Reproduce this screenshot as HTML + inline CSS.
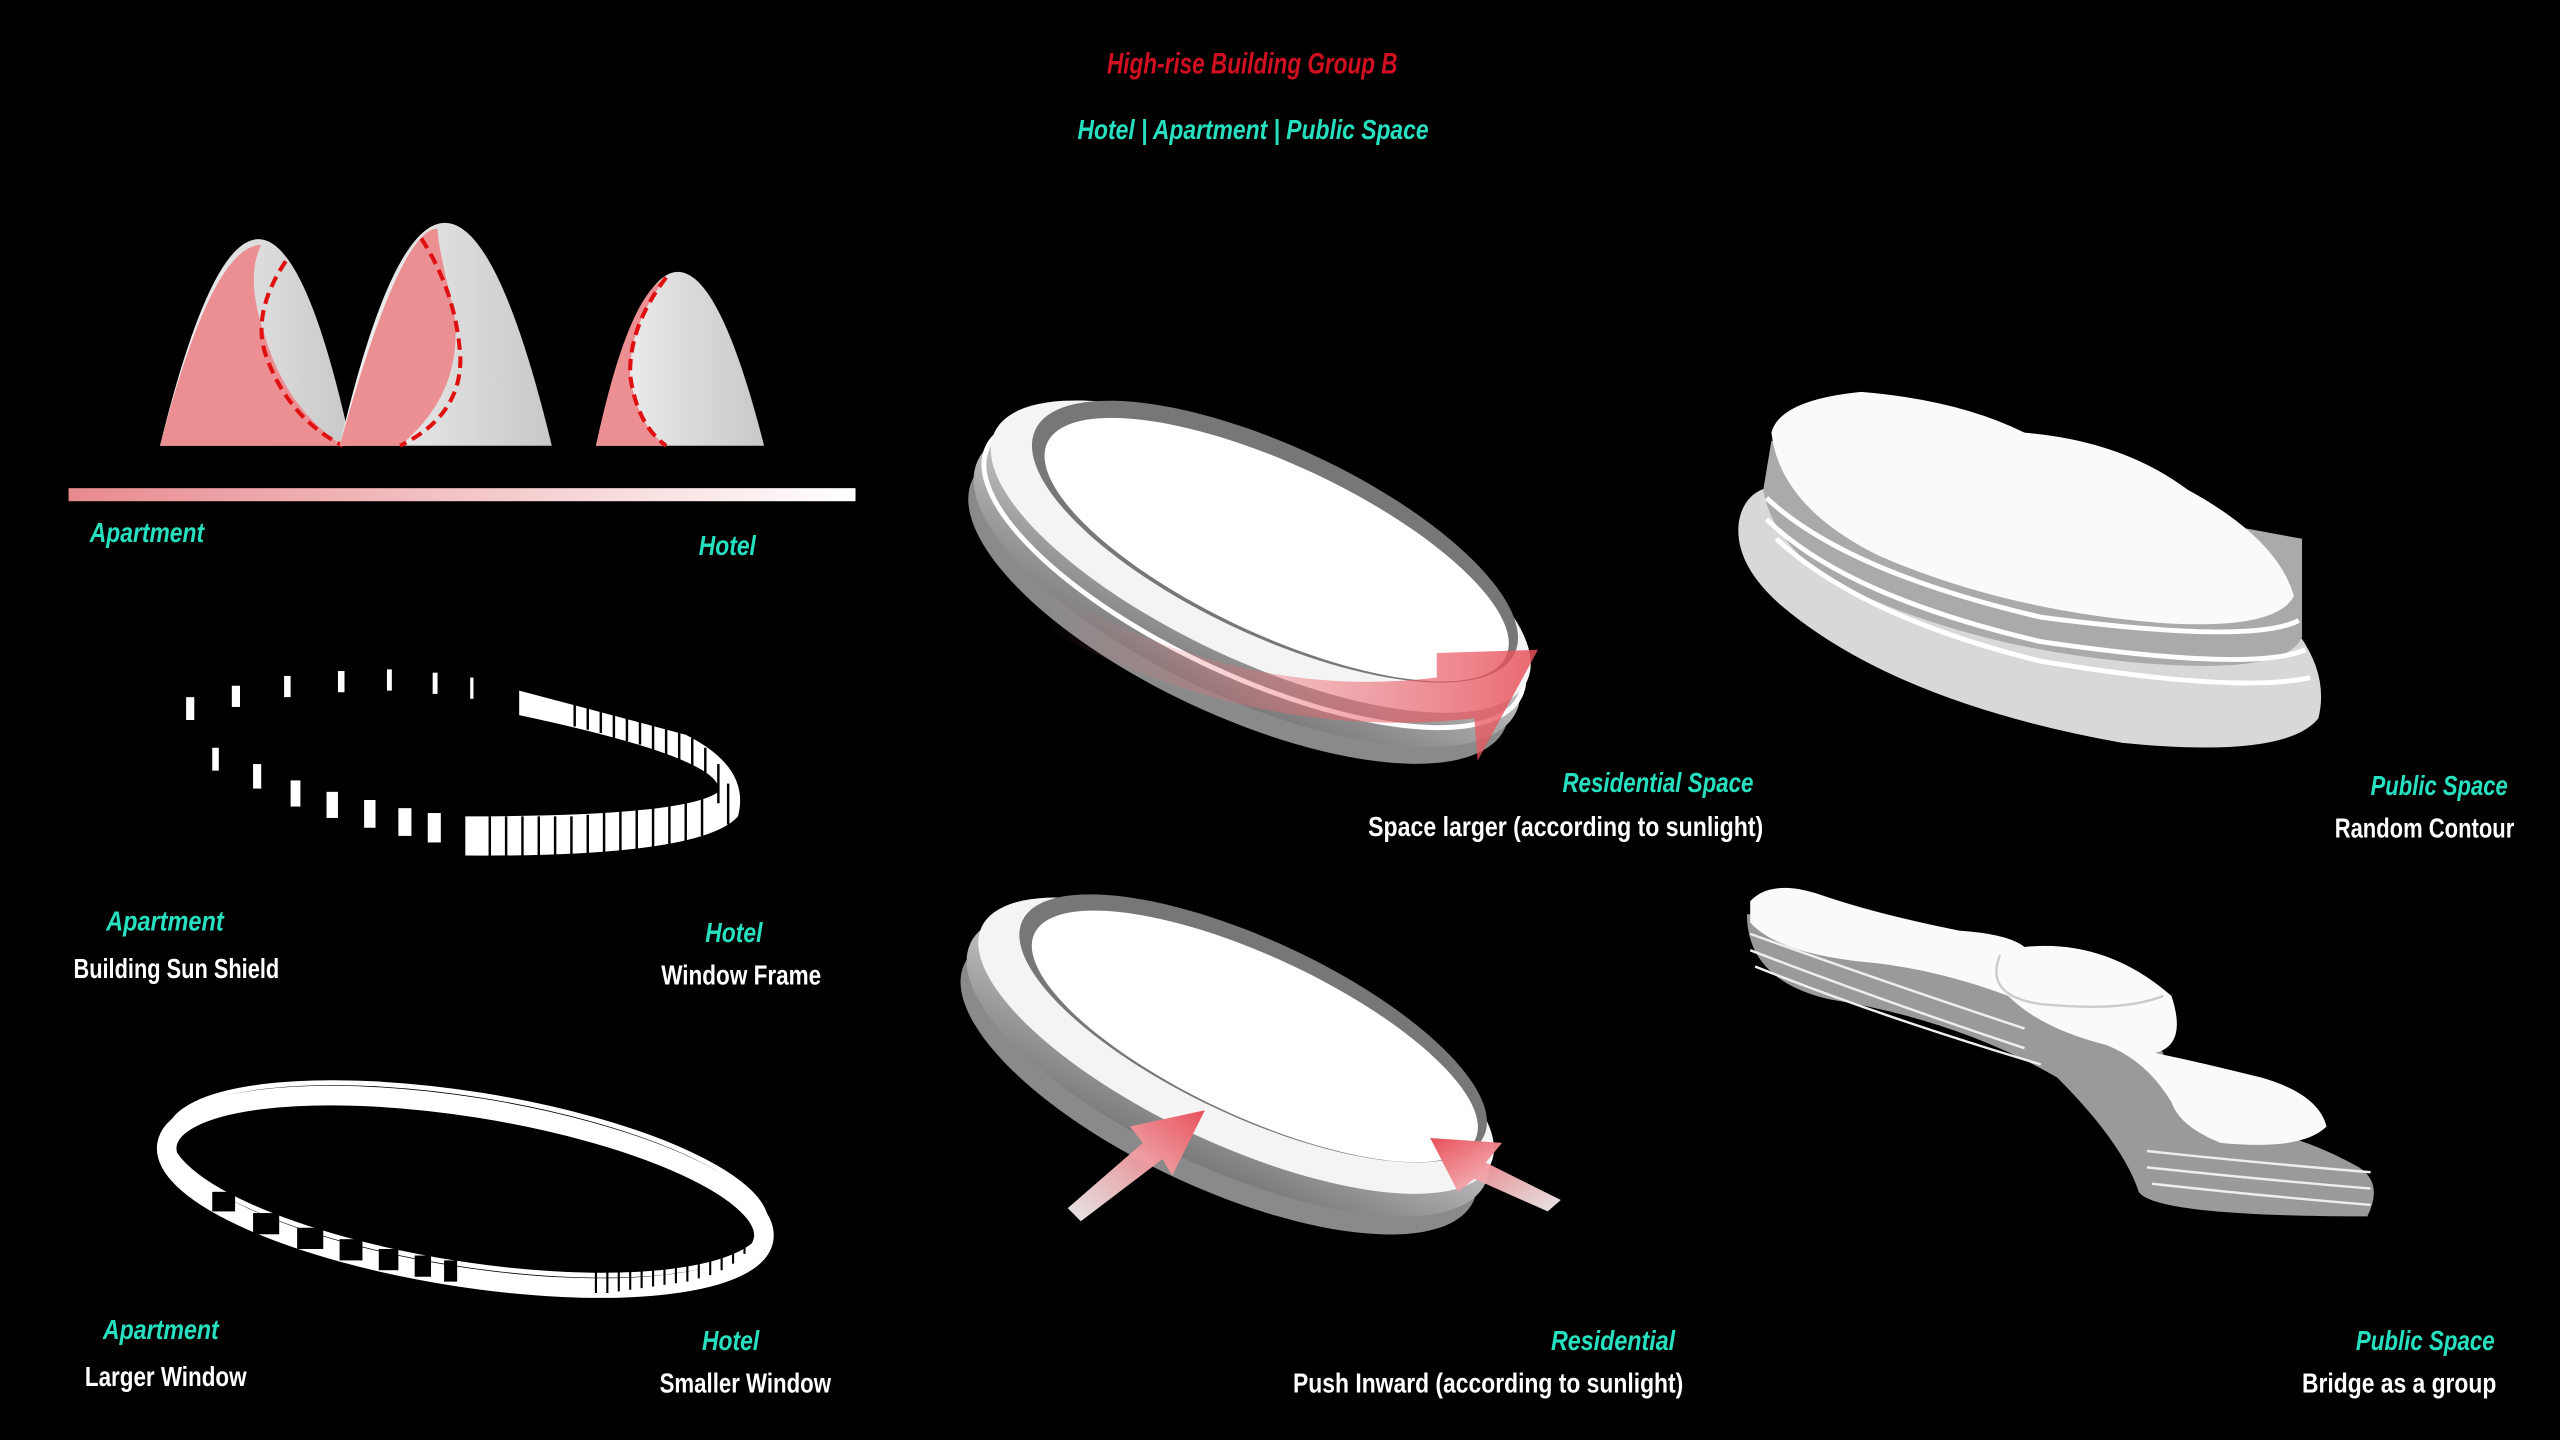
<!DOCTYPE html>
<html><head><meta charset="utf-8"><style>
html,body{margin:0;padding:0;background:#000;width:2560px;height:1440px;overflow:hidden}
svg{display:block}
text{font-family:"Liberation Sans Narrow","Liberation Sans",sans-serif;font-weight:bold}
.c{fill:#26e0c0;font-style:italic;font-size:17px}
.w{fill:#fff;font-size:17px}
</style></head><body>
<svg width="2560" height="1440" viewBox="0 0 1568 882" xmlns="http://www.w3.org/2000/svg">
<defs>
<linearGradient id="bar" x1="0" x2="1"><stop offset="0" stop-color="#e88a8e"/><stop offset="1" stop-color="#fff"/></linearGradient>
<linearGradient id="grey" x1="0" x2="1"><stop offset="0" stop-color="#f2f2f2"/><stop offset="1" stop-color="#c8c8c8"/></linearGradient>
<linearGradient id="side" x1="0" y1="0" x2="0" y2="1"><stop offset="0" stop-color="#f0f0f0"/><stop offset="1" stop-color="#7a7a7a"/></linearGradient>
<linearGradient id="arr" x1="0" x2="1"><stop offset="0" stop-color="#f08088" stop-opacity="0"/><stop offset="1" stop-color="#e8505a" stop-opacity=".85"/></linearGradient>
<linearGradient id="arr2" x1="0" y1="1" x2="1" y2="0"><stop offset="0" stop-color="#fff" stop-opacity=".9"/><stop offset="1" stop-color="#e8505a"/></linearGradient>
<linearGradient id="arr3" x1="1" y1="1" x2="0" y2="0"><stop offset="0" stop-color="#fff" stop-opacity=".9"/><stop offset="1" stop-color="#e8505a"/></linearGradient>
</defs>
<text x="678" y="45" fill="#d01020" font-style="italic" font-size="18" textLength="178" lengthAdjust="spacingAndGlyphs">High-rise Building Group B</text>
<text x="660" y="85" class="c" font-size="18" textLength="215" lengthAdjust="spacingAndGlyphs">Hotel | Apartment | Public Space</text>

<!-- bells -->
<path d="M98 273 Q160 20 215 273Z" fill="url(#grey)"/>
<path d="M98 273 Q130 150 160 150 Q150 170 162 205 Q175 250 210 273Z" fill="#ec8f92"/>
<path d="M175 160 Q155 190 162 215 Q175 255 210 273" fill="none" stroke="#e01010" stroke-width="2.5" stroke-dasharray="7,4"/>
<path d="M208 273 Q272 0 338 273Z" fill="url(#grey)"/>
<path d="M208 273 Q245 140 268 140 Q268 150 278 190 Q285 240 245 273Z" fill="#ec8f92"/>
<path d="M258 146 Q280 180 282 220 Q282 255 245 273" fill="none" stroke="#e01010" stroke-width="2.5" stroke-dasharray="7,4"/>
<path d="M365 273 Q414 60 468 273Z" fill="url(#grey)"/>
<path d="M365 273 Q385 180 408 170 Q385 200 386 230 Q390 260 408 273Z" fill="#ec8f92"/>
<path d="M408 170 Q385 200 386 230 Q390 260 408 273" fill="none" stroke="#e01010" stroke-width="2.5" stroke-dasharray="7,4"/>
<rect x="42" y="299" width="482" height="8" fill="url(#bar)"/>
<text x="55" y="332" class="c" textLength="70" lengthAdjust="spacingAndGlyphs">Apartment</text>
<text x="428" y="340" class="c" textLength="35" lengthAdjust="spacingAndGlyphs">Hotel</text>

<!-- sun shield ring -->
<g fill="#fff">
<rect x="114" y="427" width="5" height="14"/><rect x="142" y="420" width="5" height="13"/><rect x="174" y="414" width="4" height="13"/><rect x="207" y="411" width="4" height="13"/><rect x="237" y="410" width="3" height="13"/><rect x="265" y="412" width="3" height="13"/><rect x="288" y="415" width="2" height="13"/>
<rect x="130" y="458" width="4" height="14"/><rect x="155" y="468" width="5" height="15"/><rect x="178" y="478" width="6" height="16"/><rect x="200" y="485" width="7" height="16"/><rect x="223" y="490" width="7" height="17"/><rect x="244" y="495" width="8" height="17"/><rect x="262" y="498" width="8" height="18"/>
<path d="M318 423 L420 450 Q460 470 452 500 Q430 525 285 524 L285 500 Q420 500 440 485 Q445 465 318 438Z" fill="#fff"/>
</g>
<g stroke="#000" stroke-width="1.5">
<path d="M352 428 V445 M360 430 V447 M368 432 V449 M376 434 V452 M384 436 V454 M392 439 V456 M400 442 V460 M408 445 V464 M416 448 V468 M424 452 V474 M432 458 V482 M440 468 V492 M446 480 V505 M300 500 V525 M310 500 V525 M320 500 V525 M330 500 V525 M340 500 V525 M350 500 V525 M360 499 V524 M370 498 V523 M380 497 V522 M390 496 V521 M400 494 V519 M410 492 V517 M420 490 V515 M430 488 V512"/>
</g>
<text x="65" y="570" class="c" textLength="72" lengthAdjust="spacingAndGlyphs">Apartment</text>
<text x="45" y="599" class="w" textLength="126" lengthAdjust="spacingAndGlyphs">Building Sun Shield</text>
<text x="432" y="577" class="c" textLength="35" lengthAdjust="spacingAndGlyphs">Hotel</text>
<text x="405" y="603" class="w" textLength="98" lengthAdjust="spacingAndGlyphs">Window Frame</text>

<!-- window ring -->
<g transform="rotate(9 285 730)">
<ellipse cx="285" cy="730" rx="185" ry="52" fill="none" stroke="#fff" stroke-width="12"/>
<ellipse cx="285" cy="722" rx="185" ry="52" fill="none" stroke="#fff" stroke-width="3"/>
</g>
<g fill="#000">
<rect x="130" y="730" width="14" height="12"/><rect x="155" y="743" width="16" height="13"/><rect x="182" y="752" width="16" height="13"/><rect x="208" y="759" width="14" height="13"/><rect x="232" y="765" width="12" height="13"/><rect x="254" y="769" width="10" height="13"/><rect x="272" y="772" width="8" height="13"/>
</g>
<g stroke="#000" stroke-width="1.3">
<path d="M365 776V792 M372 776V792 M379 775V791 M386 774V790 M393 773V789 M400 772V788 M407 771V787 M414 770V786 M421 769V785 M428 767V783 M435 765V781 M442 762V778 M449 758V774 M456 752V768"/>
</g>
<text x="63" y="820" class="c" textLength="71" lengthAdjust="spacingAndGlyphs">Apartment</text>
<text x="52" y="849" class="w" textLength="99" lengthAdjust="spacingAndGlyphs">Larger Window</text>
<text x="430" y="827" class="c" textLength="35" lengthAdjust="spacingAndGlyphs">Hotel</text>
<text x="404" y="853" class="w" textLength="105" lengthAdjust="spacingAndGlyphs">Smaller Window</text>

<!-- building 1 -->
<g transform="rotate(25 768 350)">
<ellipse cx="768" cy="372" rx="180" ry="68" fill="#8a8a8a"/>
<ellipse cx="768" cy="360" rx="182" ry="68" fill="url(#side)"/>
<ellipse cx="768" cy="350" rx="180" ry="64" fill="none" stroke="#fff" stroke-width="3"/>
<ellipse cx="768" cy="340" rx="180" ry="64" fill="#f4f4f4"/>
<ellipse cx="772" cy="328" rx="162" ry="58" fill="#777"/>
<ellipse cx="775" cy="332" rx="155" ry="52" fill="#fff"/>
</g>
<path d="M640 360 Q760 430 880 415 L880 400 L942 398 L905 466 L903 440 Q770 455 640 385Z" fill="url(#arr)"/>
<text x="957" y="485" class="c" textLength="117" lengthAdjust="spacingAndGlyphs">Residential Space</text>
<text x="838" y="512" class="w" textLength="242" lengthAdjust="spacingAndGlyphs">Space larger (according to sunlight)</text>

<!-- building 2 -->
<g transform="rotate(25 755 645)">
<ellipse cx="755" cy="665" rx="172" ry="64" fill="#8a8a8a"/>
<ellipse cx="755" cy="652" rx="174" ry="64" fill="url(#side)"/>
<ellipse cx="755" cy="640" rx="172" ry="60" fill="#f4f4f4"/>
<ellipse cx="760" cy="626" rx="156" ry="54" fill="#777"/>
<ellipse cx="763" cy="630" rx="149" ry="49" fill="#fff"/>
</g>
<path d="M654 740 L700 700 L692 690 L738 680 L718 720 L712 710 L662 748Z" fill="url(#arr2)"/>
<path d="M956 735 L910 712 L920 700 L876 697 L893 730 L903 722 L948 742Z" fill="url(#arr3)"/>
<text x="950" y="827" class="c" textLength="76" lengthAdjust="spacingAndGlyphs">Residential</text>
<text x="792" y="853" class="w" textLength="239" lengthAdjust="spacingAndGlyphs">Push Inward (according to sunlight)</text>

<!-- blob 1 -->
<path d="M1065 320 Q1070 290 1110 300 L1380 360 Q1430 400 1420 440 Q1400 465 1300 455 Q1160 430 1090 370 Q1062 345 1065 320Z" fill="#d8d8d8"/>
<path d="M1080 300 Q1085 330 1120 355 Q1200 395 1300 405 Q1400 415 1410 390 L1410 330 L1085 270Z" fill="#aaa"/>
<g fill="none" stroke="#fff" stroke-width="3">
<path d="M1082 305 Q1130 350 1250 378 Q1380 395 1408 380"/>
<path d="M1082 318 Q1130 365 1250 393 Q1380 412 1412 398"/>
<path d="M1088 330 Q1140 378 1250 405 Q1370 425 1415 415"/>
</g>
<path d="M1085 265 Q1090 245 1140 240 Q1200 245 1240 265 Q1300 270 1340 300 Q1395 330 1405 365 Q1395 385 1330 382 Q1230 375 1150 340 Q1090 310 1085 265Z" fill="#fafafa"/>
<text x="1452" y="487" class="c" textLength="84" lengthAdjust="spacingAndGlyphs">Public Space</text>
<text x="1430" y="513" class="w" textLength="110" lengthAdjust="spacingAndGlyphs">Random Contour</text>

<!-- blob chain -->
<path d="M1070 560 Q1070 600 1120 612 Q1200 625 1260 660 Q1300 700 1310 730 Q1320 745 1450 745 Q1460 725 1445 715 Q1400 690 1360 690 L1330 660 Q1320 620 1280 600 Q1200 570 1120 560Z" fill="#9a9a9a"/>
<g fill="none" stroke="#eee" stroke-width="1.5">
<path d="M1072 572 Q1150 600 1240 630"/><path d="M1072 582 Q1150 612 1240 642"/><path d="M1075 592 Q1150 622 1250 652"/>
<path d="M1315 705 Q1380 712 1452 718"/><path d="M1315 715 Q1380 722 1452 728"/><path d="M1318 725 Q1380 732 1452 738"/>
</g>
<path d="M1072 552 Q1085 538 1115 548 Q1150 560 1200 570 Q1230 572 1240 580 Q1290 575 1330 610 Q1340 640 1320 645 Q1345 650 1385 660 Q1420 670 1425 690 Q1410 705 1360 700 Q1335 690 1330 675 Q1315 650 1290 640 Q1250 630 1230 610 Q1190 595 1150 590 Q1090 585 1072 565Z" fill="#fafafa"/>
<path d="M1225 585 Q1215 610 1250 615 Q1300 620 1325 610" fill="none" stroke="#ccc" stroke-width="1.5"/>
<text x="1443" y="827" class="c" textLength="85" lengthAdjust="spacingAndGlyphs">Public Space</text>
<text x="1410" y="853" class="w" textLength="119" lengthAdjust="spacingAndGlyphs">Bridge as a group</text>
</svg>
</body></html>
